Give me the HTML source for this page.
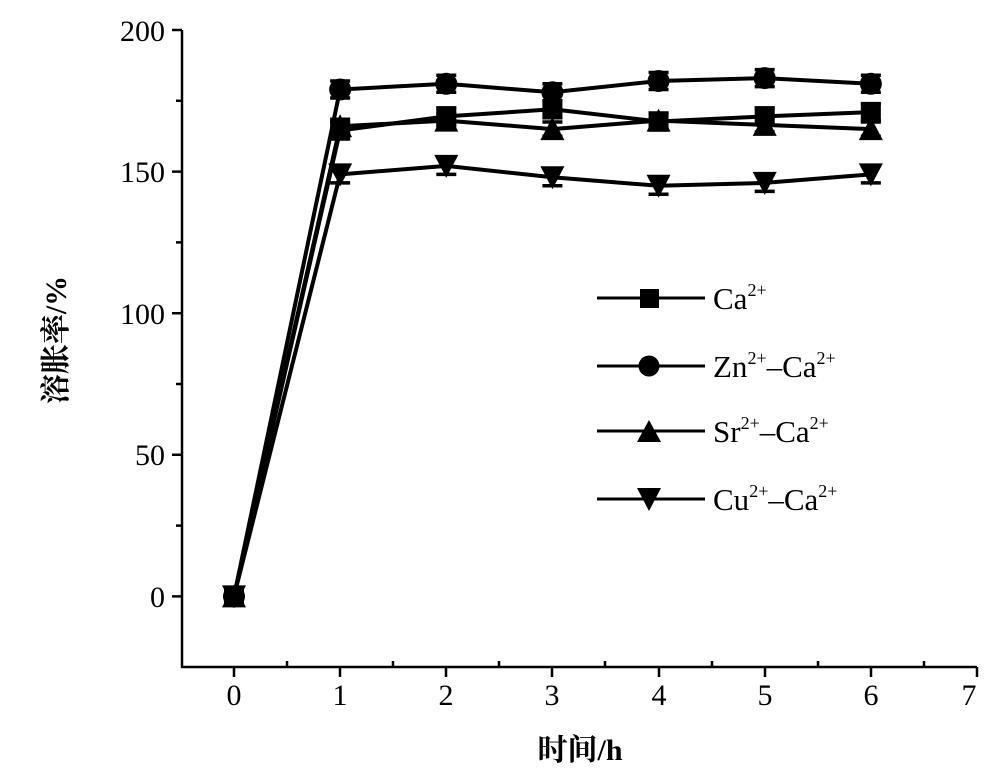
<!DOCTYPE html>
<html><head><meta charset="utf-8"><style>
html,body{margin:0;padding:0;background:#fff;}
svg{display:block;font-family:"Liberation Serif","Noto Serif CJK SC",serif;}
</style></head><body>
<svg id="s" width="1000" height="781" viewBox="0 0 1000 781" xmlns="http://www.w3.org/2000/svg">
<g stroke="#000" stroke-width="2.5" fill="none">
<path d="M182,30 V667 H977"/>
<path d="M182,30 h-10 M182,100.8 h-6 M182,171.6 h-10 M182,242.4 h-6 M182,313.2 h-10 M182,384 h-6 M182,454.8 h-10 M182,525.6 h-6 M182,596.4 h-10"/>
<path d="M234,667 v10 M287,667 v-6 M340,667 v10 M393,667 v-6 M446,667 v10 M499,667 v-6 M552,667 v10 M605,667 v-6 M659,667 v10 M712,667 v-6 M765,667 v10 M818,667 v-6 M871,667 v10 M924,667 v-6 M977,667 v10"/>
</g>
<g font-size="30" text-anchor="end" fill="#000">
<text x="165" y="41">200</text><text x="165" y="182">150</text><text x="165" y="324">100</text><text x="165" y="465">50</text><text x="165" y="607">0</text>
</g>
<g font-size="30" text-anchor="middle" fill="#000">
<text x="234" y="705">0</text><text x="340" y="705">1</text><text x="446" y="705">2</text><text x="552" y="705">3</text><text x="659" y="705">4</text><text x="765" y="705">5</text><text x="871" y="705">6</text><text x="969" y="705">7</text>
</g>
<text x="580" y="760" font-size="30" font-weight="bold" text-anchor="middle">时间/h</text>
<text transform="translate(66,340) rotate(-90)" font-size="30" font-weight="bold" text-anchor="middle">溶胀率/%</text>
<g id="plot"></g>
<g stroke="#000" stroke-width="3">
<line x1="597" y1="298" x2="705" y2="298"/><line x1="597" y1="366" x2="705" y2="366"/><line x1="597" y1="431" x2="705" y2="431"/><line x1="597" y1="499" x2="705" y2="499"/>
</g>
<rect x="640" y="289" width="19" height="19" fill="#000"/>
<circle cx="649" cy="366" r="10.5" fill="#000"/>
<path d="M637,442 L661,442 L649,420 Z" fill="#000"/>
<path d="M637,488 L661,488 L649,511 Z" fill="#000"/>
<g font-size="31" fill="#000">
<text x="713" y="309">Ca<tspan font-size="18" dy="-13">2+</tspan></text>
<text x="713" y="377">Zn<tspan font-size="18" dy="-13">2+</tspan><tspan dy="13">–Ca</tspan><tspan font-size="18" dy="-13">2+</tspan></text>
<text x="713" y="442">Sr<tspan font-size="18" dy="-13">2+</tspan><tspan dy="13">–Ca</tspan><tspan font-size="18" dy="-13">2+</tspan></text>
<text x="713" y="510">Cu<tspan font-size="18" dy="-13">2+</tspan><tspan dy="13">–Ca</tspan><tspan font-size="18" dy="-13">2+</tspan></text>
</g>
</svg>
<script>
var X=function(t){return 234+t*106.14},Y=function(v){return 596.4-v*2.832};
var S=[
 {m:'sq',d:[0,164.5,169.5,172,167.7,169.5,171],e:3},
 {m:'ci',d:[0,179,181,178,182,183,181],e:3},
 {m:'up',d:[0,166,168,165,168,166.5,165],e:2.5},
 {m:'dn',d:[0,149,152,148,145,146,149],e:3}
];
var g='';
S.forEach(function(s){
 var p=s.d.map(function(v,i){return X(i).toFixed(1)+','+Y(v).toFixed(1)}).join(' ');
 g+='<polyline points="'+p+'" fill="none" stroke="#000" stroke-width="4"/>';
 s.d.forEach(function(v,i){
  var x=X(i),y=Y(v);
  if(i>0){var t=Y(v+s.e),b=Y(v-s.e);g+='<path d="M'+x+','+t+'V'+b+'M'+(x-10)+','+t+'h20M'+(x-10)+','+b+'h20" stroke="#000" stroke-width="3.5"/>';}
  if(s.m=='sq')g+='<rect x="'+(x-10)+'" y="'+(y-10)+'" width="20" height="20"/>';
  if(s.m=='ci')g+='<circle cx="'+x+'" cy="'+y+'" r="11"/>';
  if(s.m=='up')g+='<path d="M'+(x-12)+','+(y+11)+'h24L'+x+','+(y-12)+'Z"/>';
  if(s.m=='dn')g+='<path d="M'+(x-12)+','+(y-11)+'h24L'+x+','+(y+12)+'Z"/>';
 });
});
document.getElementById('plot').innerHTML=g;
</script>
</body></html>
